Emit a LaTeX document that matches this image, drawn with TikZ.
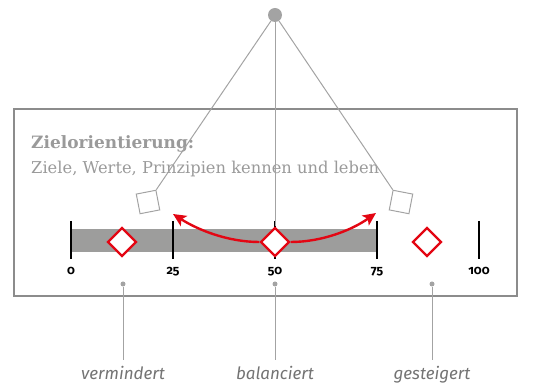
\documentclass[tikz,border=0pt]{standalone}
\usepackage{fontspec}
\usetikzlibrary{shapes.geometric,arrows.meta}

\newfontfamily\titlefont{DejaVu Serif}
\newfontfamily\numfont[Numbers=OldStyle]{Fira Sans}
\newfontfamily\labelfont{Fira Sans}

\definecolor{framegray}{HTML}{8C8C8C}
\definecolor{linegray}{HTML}{A3A3A3}
\definecolor{textgray}{HTML}{9A9A9A}
\definecolor{bargray}{HTML}{9D9D9C}
\definecolor{markred}{HTML}{E30613}

\begin{document}
\begin{tikzpicture}[x=1pt,y=-1pt,
    frame/.style={draw=framegray,line width=1.4pt},
    pend/.style={draw=linegray,line width=1pt},
    pivot/.style={circle,fill=linegray,minimum size=14pt,inner sep=0pt},
    weight/.style={draw=linegray,line width=1pt,minimum size=20pt,inner sep=0pt},
    rhomb/.style={diamond,draw=markred,fill=white,line width=2.3pt,minimum size=29pt,inner sep=0pt},
    swing/.style={draw=markred,line width=2.4pt,-{Stealth[length=13pt,width=12pt,inset=3pt]}},
    tick/.style={line width=1.4pt},
    dot/.style={circle,fill=linegray,minimum size=5pt,inner sep=0pt},
    state/.style={font=\labelfont\itshape\fontsize{17}{19}\selectfont,text=gray!90!black,anchor=base,inner sep=0pt}]

    % Canvas
    \useasboundingbox (0,0) rectangle (542,387);

    % Frame
    \draw[frame] (14,109) rectangle (517,296);

    % Title
    \node[anchor=base west,inner sep=0pt,text=textgray,font=\titlefont\bfseries\fontsize{17}{19}\selectfont] (title) at (31,149) {Zielorientierung:};
    \node[anchor=base west,inner sep=0pt,text=textgray,font=\titlefont\fontsize{16.3}{19}\selectfont] (subtitle) at (31,174) {Ziele, Werte, Prinzipien kennen und leben};

    % Scale bar
    \fill[bargray] (71,229) rectangle (377,252);
    \foreach \v [count=\i from 0] in {0,25,50,75,100}
        \draw[tick] (71+102*\i,221) -- (71+102*\i,259)
            node[below=4pt,font=\numfont\bfseries\fontsize{12.5}{13}\selectfont] {\v};

    % Pendulum
    \node[pivot] (pivot) at (275,15) {};
    \node[weight,rotate=11] (wl) at (148,202) {};
    \node[weight,rotate=-11] (wr) at (401,202) {};

    % Positions
    \node[rhomb] (dl) at (122,242) {};
    \node[rhomb] (dm) at (275,242) {};
    \node[rhomb] (dr) at (427,242) {};

    \draw[pend] (pivot) -- (wl.north east);
    \draw[pend] (pivot) -- (wr.north west);
    \draw[pend] (pivot) -- (dm.north);

    % Swing arrows
    \coordinate (tl) at (173,214);
    \coordinate (tr) at (376,213);
    \draw[swing] (dm.west) .. controls (228,242) and (198,230) .. (tl);
    \draw[swing] (dm.east) .. controls (322,242) and (352,230) .. (tr);

    % States
    \node[dot] (pl) at (123,284) {};
    \node[dot] (pm) at (275,284) {};
    \node[dot] (pr) at (432,284) {};
    \node[state] (vermindert) at (123,380) {vermindert};
    \node[state] (balanciert) at (275,380) {balanciert};
    \node[state] (gesteigert) at (432,380) {gesteigert};
    \draw[pend] (pl) -- ([yshift=7pt]pl |- vermindert.north);
    \draw[pend] (pm) -- ([yshift=7pt]pm |- balanciert.north);
    \draw[pend] (pr) -- ([yshift=7pt]pr |- gesteigert.north);

\end{tikzpicture}
\end{document}
